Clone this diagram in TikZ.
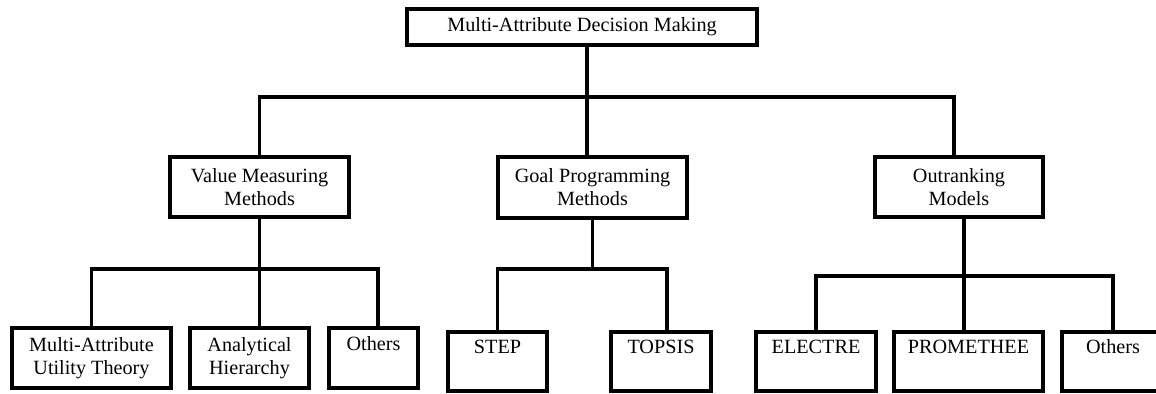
\documentclass[tikz,border=0pt]{standalone}
\usepackage{fontspec}
\setmainfont{Liberation Serif}

\begin{document}
\begin{tikzpicture}[x=0.02cm, y=-0.02cm, line width=1.8pt,
  box/.style={draw, rectangle, align=center, inner sep=0pt,
    font=\fontsize{11.5}{13}\selectfont},
  upper/.style={box, minimum height=1.2cm},
  leaf/.style={box, minimum height=1.18cm}]
  \useasboundingbox (0,0) rectangle (1156,393);
  \clip (0,0) rectangle (1156,393);
  % root
  \node[box, minimum width=7cm, minimum height=0.72cm] (mcdm) at (582,27)
    {Multi-Attribute Decision Making};
  % second level
  \node[upper, minimum width=3.58cm] (vmm) at (259.5,187) {Value Measuring\\Methods};
  \node[upper, minimum width=3.78cm, minimum height=1.22cm] (gpm) at (592.5,187.5)
    {Goal Programming\\Methods};
  \node[upper, minimum width=3.36cm] (orm) at (959,187) {Outranking\\Models};
  % leaves
  \node[upper, minimum width=3.18cm] (maut) at (91.5,358) {Multi-Attribute\\Utility Theory};
  \node[upper, minimum width=2.38cm] (ahp) at (249.5,358) {Analytical\\Hierarchy};
  \node[upper, minimum width=1.78cm] (oth1) at (373.5,358) {Others\\\strut};
  \node[leaf, minimum width=1.98cm] (step) at (497.5,361.5) {STEP\\\strut};
  \node[leaf, minimum width=2cm] (topsis) at (661,361.5) {TOPSIS\\\strut};
  \node[leaf, minimum width=2.4cm] (electre) at (816,361.5) {ELECTRE\\\strut};
  \node[leaf, minimum width=2.98cm] (prom) at (968.5,361.5) {PROMETHEE\\\strut};
  \node[leaf, minimum width=2.04cm] (oth2) at (1113,361.5) {Others\\\strut};

  % root to second level
  \coordinate (j0) at (587,97);
  \draw (mcdm.south -| j0) -- (gpm.north -| j0);
  \draw (vmm.north) |- (j0) -| ([xshift=-0.1cm]orm.north);
  % value measuring
  \coordinate (v3) at (378,269);
  \draw (vmm.south) -- (vmm.south |- ahp.north);
  \draw (maut.north) |- (v3) -- (v3 |- oth1.north);
  % goal programming
  \coordinate (g2) at (667,269);
  \draw (gpm.south) -- (gpm.south |- g2);
  \draw (step.north) |- (g2) -- (g2 |- topsis.north);
  % outranking
  \coordinate (o1) at (964,276);
  \draw (orm.south -| o1) -- (prom.north -| o1);
  \draw (electre.north) |- (oth2.north |- o1) -- (oth2.north);
\end{tikzpicture}
\end{document}
